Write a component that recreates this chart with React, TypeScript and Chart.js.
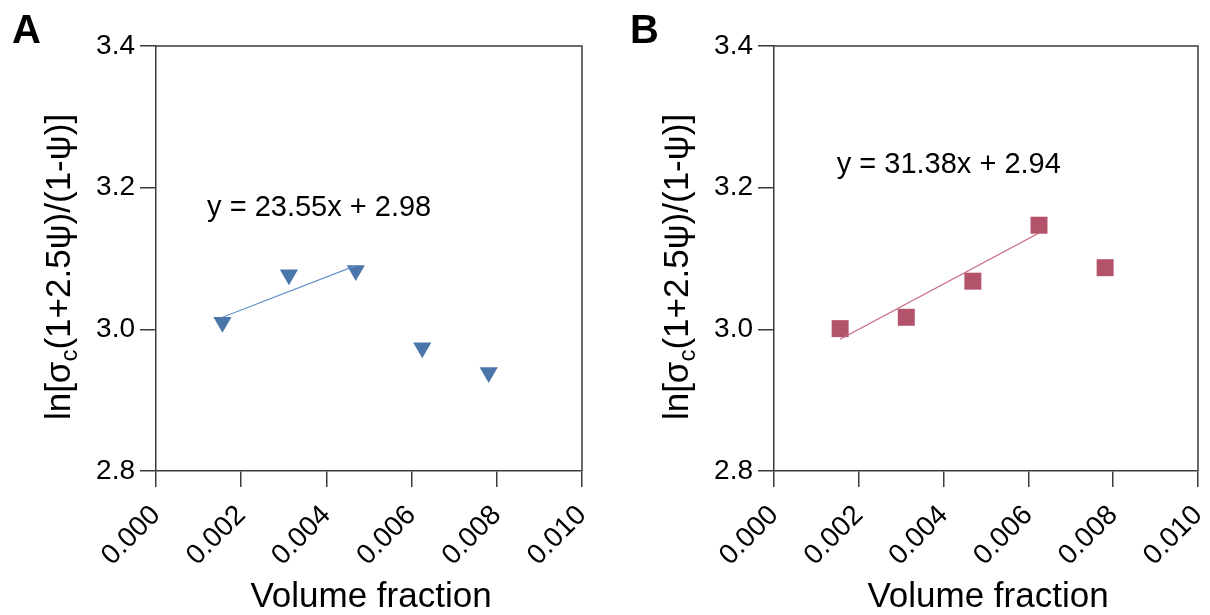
import React, { useEffect, useRef } from "react";
import { Chart, registerables } from "chart.js";

Chart.register(...registerables);

// ---- data ----
const volumeFractionA = [0.00156, 0.00312, 0.00469, 0.00625, 0.00781];
const lnValuesA = [3.010, 3.077, 3.083, 2.974, 2.939];
const fitXA = [0.00156, 0.00469];
const fitYA = [3.017, 3.090];
const equationA = "y = 23.55x + 2.98";

const volumeFractionB = [0.00156, 0.00312, 0.00469, 0.00625, 0.00781];
const lnValuesB = [3.001, 3.017, 3.068, 3.147, 3.087];
const fitXB = [0.00156, 0.00625];
const fitYB = [2.986, 3.136];
const equationB = "y = 31.38x + 2.94";

const yTicks = [2.8, 3.0, 3.2, 3.4];
const xTicks = [0, 0.002, 0.004, 0.006, 0.008, 0.01];

const FONT = "'Liberation Sans', Arial, Helvetica, sans-serif";
const AXIS_COLOR = "#3c3c3c";

type PanelCfg = {
  letter: string;
  xs: number[];
  ys: number[];
  fitX: number[];
  fitY: number[];
  equation: string;
  eqPos: [number, number];
  color: string;
  lineColor: string;
  pointStyle: string;
  rotation: number;
  radius: number;
  rightPad: number;
};

function makeChart(canvas: HTMLCanvasElement, cfg: PanelCfg) {
  const panelPlugin = {
    id: "panelDecor",
    afterDraw(chart: any) {
      const ctx = chart.ctx as CanvasRenderingContext2D;
      const a = chart.chartArea;
      ctx.save();
      // frame
      ctx.strokeStyle = AXIS_COLOR;
      ctx.lineWidth = 1.5;
      ctx.beginPath();
      ctx.moveTo(a.left, a.top);
      ctx.lineTo(a.right, a.top);
      ctx.lineTo(a.right, a.bottom);
      ctx.stroke();

      ctx.fillStyle = "#000";
      // panel letter
      ctx.font = `bold 40px ${FONT}`;
      ctx.textAlign = "left";
      ctx.textBaseline = "alphabetic";
      ctx.fillText(cfg.letter, 12, 43);

      // equation
      const xs = chart.scales.x;
      const ys = chart.scales.y;
      ctx.font = `29px ${FONT}`;
      ctx.textBaseline = "middle";
      ctx.fillText(
        cfg.equation,
        xs.getPixelForValue(cfg.eqPos[0]),
        ys.getPixelForValue(cfg.eqPos[1])
      );

      // x title
      ctx.font = `35px ${FONT}`;
      ctx.textAlign = "center";
      ctx.textBaseline = "alphabetic";
      ctx.fillText("Volume fraction", (a.left + a.right) / 2 + 2, 607);

      // y title with subscript
      const big = `35px ${FONT}`;
      const small = `24px ${FONT}`;
      const p1 = "ln[σ";
      const p2 = "c";
      const p3 = "(1+2.5ψ)/(1-ψ)]";
      ctx.font = big;
      const w1 = ctx.measureText(p1).width;
      const w3 = ctx.measureText(p3).width;
      ctx.font = small;
      const w2 = ctx.measureText(p2).width;
      const total = w1 + w2 + w3;
      ctx.translate(70, 267);
      ctx.rotate(-Math.PI / 2);
      ctx.textAlign = "left";
      let x0 = -total / 2;
      ctx.font = big;
      ctx.fillText(p1, x0, 0);
      x0 += w1;
      ctx.font = small;
      ctx.fillText(p2, x0, 7);
      x0 += w2;
      ctx.font = big;
      ctx.fillText(p3, x0, 0);
      ctx.restore();
    },
  };

  return new Chart(canvas, {
    type: "scatter",
    data: {
      datasets: [
        {
          data: cfg.fitX.map((x, i) => ({ x, y: cfg.fitY[i] })),
          showLine: true,
          borderColor: cfg.lineColor,
          borderWidth: 1.2,
          pointRadius: 0,
          fill: false,
        },
        {
          data: cfg.xs.map((x, i) => ({ x, y: cfg.ys[i] })),
          showLine: false,
          backgroundColor: cfg.color,
          borderColor: cfg.color,
          borderWidth: 0,
          pointStyle: cfg.pointStyle as any,
          rotation: cfg.rotation,
          pointRadius: cfg.radius,
        },
      ],
    },
    options: {
      responsive: false,
      animation: false,
      devicePixelRatio: 1,
      layout: { padding: { left: 0, top: 46, right: cfg.rightPad, bottom: 0 } },
      plugins: { legend: { display: false }, tooltip: { enabled: false } },
      scales: {
        x: {
          type: "linear",
          min: xTicks[0],
          max: xTicks[xTicks.length - 1],
          afterBuildTicks: (s: any) => {
            s.ticks = xTicks.map((v) => ({ value: v }));
          },
          afterFit: (s: any) => {
            s.height = 144;
            s.paddingLeft = 0;
            s.paddingRight = 0;
          },
          ticks: {
            minRotation: 45,
            maxRotation: 45,
            padding: 12,
            color: "#000",
            font: { family: FONT, size: 28 },
            callback: (v: any) => Number(v).toFixed(3),
          },
          grid: {
            drawOnChartArea: false,
            drawTicks: true,
            tickLength: 16,
            color: AXIS_COLOR,
            lineWidth: 1.5,
          },
          border: { display: true, color: AXIS_COLOR, width: 1.5 },
        },
        y: {
          type: "linear",
          min: yTicks[0],
          max: yTicks[yTicks.length - 1],
          afterBuildTicks: (s: any) => {
            s.ticks = yTicks.map((v) => ({ value: v }));
          },
          afterFit: (s: any) => {
            s.width = 156;
            s.paddingTop = 0;
            s.paddingBottom = 0;
          },
          ticks: {
            padding: 5,
            color: "#000",
            font: { family: FONT, size: 28 },
            callback: (v: any) => Number(v).toFixed(1),
          },
          grid: {
            drawOnChartArea: false,
            drawTicks: true,
            tickLength: 16,
            color: AXIS_COLOR,
            lineWidth: 1.5,
          },
          border: { display: true, color: AXIS_COLOR, width: 1.5 },
        },
      },
    },
    plugins: [panelPlugin],
  } as any);
}

export default function App() {
  const refA = useRef<HTMLCanvasElement | null>(null);
  const refB = useRef<HTMLCanvasElement | null>(null);

  useEffect(() => {
    const cA = makeChart(refA.current!, {
      letter: "A",
      xs: volumeFractionA,
      ys: lnValuesA,
      fitX: fitXA,
      fitY: fitYA,
      equation: equationA,
      eqPos: [0.0012, 3.171],
      color: "#4A76AA",
      lineColor: "#6790C8",
      pointStyle: "triangle",
      rotation: 180,
      radius: 10.5,
      rightPad: 23,
    });
    const cB = makeChart(refB.current!, {
      letter: "B",
      xs: volumeFractionB,
      ys: lnValuesB,
      fitX: fitXB,
      fitY: fitYB,
      equation: equationB,
      eqPos: [0.00148, 3.232],
      color: "#B2536B",
      lineColor: "#C9647E",
      pointStyle: "rect",
      rotation: 0,
      radius: 12,
      rightPad: 11,
    });
    return () => {
      cA.destroy();
      cB.destroy();
    };
  }, []);

  return (
    <div style={{ position: "absolute", left: 0, top: 0, width: 1210, height: 615, background: "#fff" }}>
      <canvas ref={refA} width={605} height={615} style={{ position: "absolute", left: 0, top: 0, width: 605, height: 615 }} />
      <canvas ref={refB} width={592} height={615} style={{ position: "absolute", left: 618, top: 0, width: 592, height: 615 }} />
    </div>
  );
}
